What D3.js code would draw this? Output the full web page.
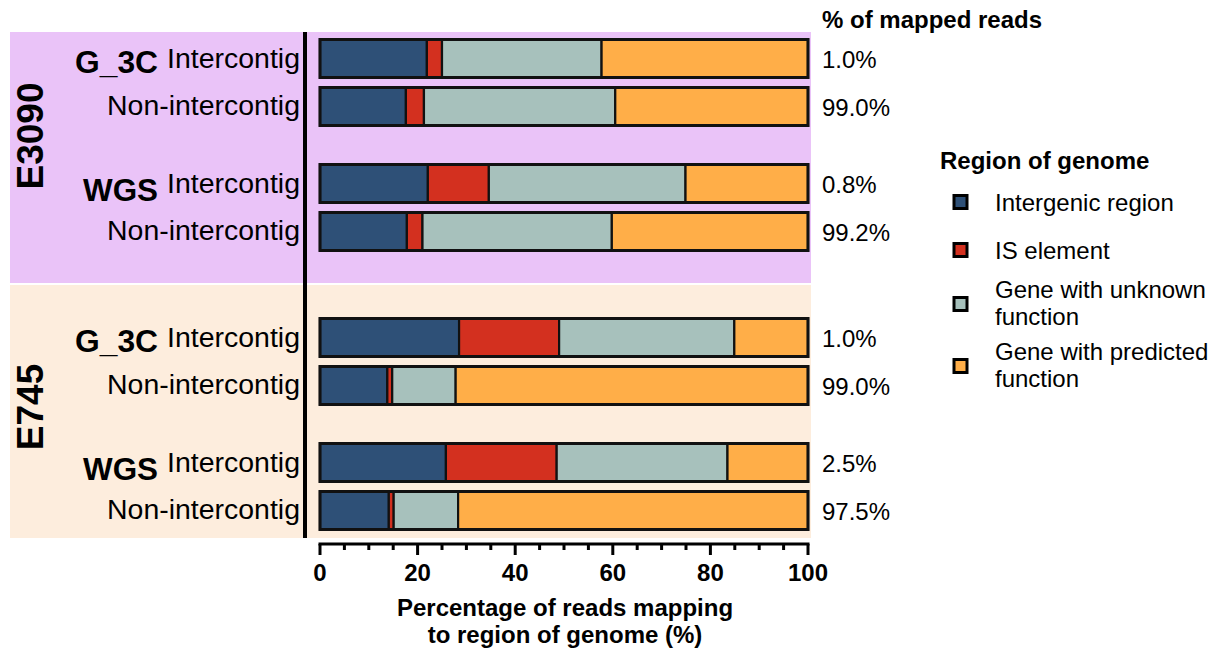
<!DOCTYPE html>
<html>
<head>
<meta charset="utf-8">
<script src="https://cdn.jsdelivr.net/npm/d3@7"></script>
<style>
  html, body { margin: 0; padding: 0; background: #ffffff; }
  svg { display: block; font-family: Arial, "Liberation Sans", Helvetica, sans-serif; }
</style>
</head>
<body>
<svg id="chart" width="1217" height="650"></svg>
<script>
// ---- data -------------------------------------------------------------
const strains = ["E3090", "E745"];
const methods = ["G_3C", "WGS"];
const readTypes = ["Intercontig", "Non-intercontig"];
const regions = ["Intergenic region", "IS element", "Gene with unknown function", "Gene with predicted function"];
const legendLines = [["Intergenic region"], ["IS element"], ["Gene with unknown", "function"], ["Gene with predicted", "function"]];

// one value per bar, in order: strain > method > read type
const intergenic   = [21.9, 17.6, 22.1, 17.8, 28.5, 13.8, 25.8, 14.1];
const isElement    = [3.1, 3.7, 12.5, 3.2, 20.5, 1.0, 22.7, 1.0];
const unknownFn    = [32.7, 39.2, 40.3, 38.8, 35.9, 13.0, 35.0, 13.2];
const predictedFn  = [42.3, 39.5, 25.1, 40.2, 15.1, 72.2, 16.5, 71.7];
const mappedReads  = [1.0, 99.0, 0.8, 99.2, 1.0, 99.0, 2.5, 97.5];
const xTicks = [0, 20, 40, 60, 80, 100];

const colors = ["#2e5077", "#d3301f", "#a7c1bc", "#ffae48"];
const groupFills = ["#eac3f8", "#fdeddd"];

// ---- rows ---------------------------------------------------------------
const rows = [];
strains.forEach((s, si) => methods.forEach((m, mi) => readTypes.forEach((r, ri) => {
  const i = rows.length;
  rows.push({
    i, strain: s, si, method: m, mi, readType: r, ri,
    pair: si * 2 + mi,
    values: [intergenic[i], isElement[i], unknownFn[i], predictedFn[i]],
    mapped: mappedReads[i]
  });
})));

const svg = d3.select("#chart");

// ---- scales -------------------------------------------------------------
const x = d3.scaleLinear().domain([0, 100]).range([320, 808]);
const rowStep = 48, pairGap = 29, barH = 38;
const yc = d => 58.5 + d.i * rowStep + d.pair * pairGap + d.si * pairGap;

// ---- group backgrounds --------------------------------------------------
const bands = [{ top: 32, bottom: 283 }, { top: 285, bottom: 538 }];
svg.selectAll("rect.band").data(strains).join("rect")
  .attr("class", "band")
  .attr("x", 10).attr("width", 801)
  .attr("y", (d, i) => bands[i].top)
  .attr("height", (d, i) => bands[i].bottom - bands[i].top)
  .attr("fill", (d, i) => groupFills[i]);

// strain labels (rotated)
const strainCenters = [136, 407];
svg.selectAll("text.strain").data(strains).join("text")
  .attr("class", "strain")
  .attr("transform", (d, i) => `translate(43,${strainCenters[i]}) rotate(-90)`)
  .attr("text-anchor", "middle")
  .attr("font-size", 37).attr("font-weight", "bold")
  .text(d => d);

// vertical separator
svg.append("line")
  .attr("x1", 305).attr("x2", 305).attr("y1", 32).attr("y2", 538)
  .attr("stroke", "#000").attr("stroke-width", 4);

// ---- stacked bars -------------------------------------------------------
const stack = d3.stack().keys([0, 1, 2, 3]).value((d, k) => d.values[k]);
const series = stack(rows);

const segs = svg.append("g");
series.forEach((s, k) => {
  segs.selectAll(null).data(s).join("rect")
    .attr("x", d => x(d[0]))
    .attr("width", d => x(d[1]) - x(d[0]))
    .attr("y", d => yc(d.data) - barH / 2)
    .attr("height", barH)
    .attr("fill", colors[k])
    .attr("stroke", "#111")
    .attr("stroke-width", 2.2);
});
// outer frame of each bar
svg.append("g").selectAll("rect").data(rows).join("rect")
  .attr("x", x(0)).attr("width", x(100) - x(0))
  .attr("y", d => yc(d) - barH / 2).attr("height", barH)
  .attr("fill", "none").attr("stroke", "#111").attr("stroke-width", 3);

// ---- row labels ---------------------------------------------------------
svg.append("g").selectAll("text").data(rows).join("text")
  .attr("x", 300).attr("y", d => yc(d) + (d.ri === 0 ? 9.5 : 8.5))
  .attr("text-anchor", "end")
  .attr("font-size", 27)
  .attr("textLength", d => d.ri === 0 ? 133 : 193)
  .attr("lengthAdjust", "spacingAndGlyphs")
  .text(d => d.readType);

svg.append("g").selectAll("text").data(rows.filter(d => d.ri === 0)).join("text")
  .attr("x", 158).attr("y", d => yc(d) + (d.mi === 0 ? 14 : 17))
  .attr("text-anchor", "end")
  .attr("font-size", 31).attr("font-weight", "bold")
  .attr("textLength", d => d.mi === 0 ? 83 : 75)
  .attr("lengthAdjust", "spacingAndGlyphs")
  .text(d => d.method);

// ---- % of mapped reads --------------------------------------------------
svg.append("text")
  .attr("x", 822).attr("y", 28)
  .attr("font-size", 24).attr("font-weight", "bold")
  .text("% of mapped reads");

svg.append("g").selectAll("text").data(rows).join("text")
  .attr("x", 822).attr("y", d => yc(d) + 9.5)
  .attr("font-size", 24)
  .text(d => d.mapped.toFixed(1) + "%");

// ---- x axis -------------------------------------------------------------
const axisY = 544;
const axis = svg.append("g").attr("transform", `translate(0,${axisY})`);
axis.append("line")
  .attr("x1", x(0) - 1.5).attr("x2", x(100) + 1.5)
  .attr("stroke", "#000").attr("stroke-width", 3);
axis.selectAll("line.minor").data(d3.range(0, 101, 5).filter(v => v % 20 !== 0)).join("line")
  .attr("class", "minor")
  .attr("x1", d => x(d)).attr("x2", d => x(d))
  .attr("y1", 0).attr("y2", 6)
  .attr("stroke", "#000").attr("stroke-width", 3);
axis.selectAll("line.major").data(xTicks).join("line")
  .attr("class", "major")
  .attr("x1", d => x(d)).attr("x2", d => x(d))
  .attr("y1", 0).attr("y2", 11)
  .attr("stroke", "#000").attr("stroke-width", 3);
axis.selectAll("text").data(xTicks).join("text")
  .attr("x", d => x(d)).attr("y", 37)
  .attr("text-anchor", "middle")
  .attr("font-size", 24).attr("font-weight", "bold")
  .text(d => d);

const title = svg.append("text")
  .attr("x", 565).attr("text-anchor", "middle")
  .attr("font-size", 24).attr("font-weight", "bold");
title.append("tspan").attr("x", 565).attr("y", 616).text("Percentage of reads mapping");
title.append("tspan").attr("x", 565).attr("y", 643).text("to region of genome (%)");

// ---- legend -------------------------------------------------------------
svg.append("text")
  .attr("x", 940).attr("y", 169)
  .attr("font-size", 24).attr("font-weight", "bold")
  .text("Region of genome");

const legendY = [202, 250, 304, 366];
const leg = svg.append("g").selectAll("g").data(regions).join("g")
  .attr("transform", (d, i) => `translate(0,${legendY[i]})`);
leg.append("rect")
  .attr("x", 954).attr("y", -6.5).attr("width", 13).attr("height", 13)
  .attr("fill", (d, i) => colors[i])
  .attr("stroke", "#000").attr("stroke-width", 3);
leg.append("text")
  .attr("font-size", 24)
  .each(function (d, i) {
    const lines = legendLines[i];
    const t = d3.select(this);
    const first = lines.length === 1 ? 8.5 : -6;
    lines.forEach((ln, j) => {
      t.append("tspan").attr("x", 995).attr("y", first + j * 27).text(ln);
    });
  });
</script>
</body>
</html>
